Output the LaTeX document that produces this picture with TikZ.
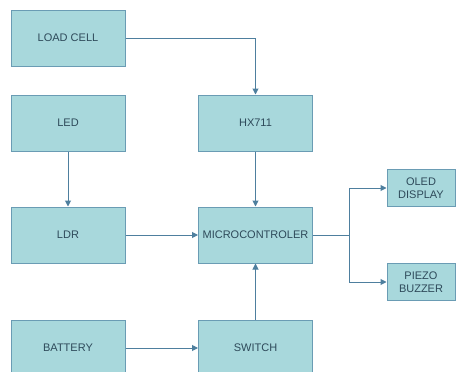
\documentclass[tikz,border=0pt]{standalone}
\usepackage{fontspec}
\setmainfont{Liberation Sans}
\usetikzlibrary{arrows.meta}
\definecolor{boxfill}{HTML}{A8D8DC}
\definecolor{boxline}{HTML}{6A9CB4}
\definecolor{arrowc}{HTML}{4E7F9E}
\definecolor{txt}{HTML}{2E4A5A}
\begin{document}
\begin{tikzpicture}[x=1pt,y=-1pt,
  blk/.style={draw=boxline,fill=boxfill,line width=1pt,inner sep=0pt,
    font=\fontsize{11}{12.5}\selectfont,text=txt,align=center},
  wide/.style={blk,minimum width=114pt,minimum height=56pt},
  small/.style={blk,minimum width=68pt,minimum height=37pt},
  conn/.style={draw=arrowc,line width=1pt,-{Triangle[length=6pt,width=6pt]}}]
\clip (0,0) rectangle (456,372);
\useasboundingbox (0,0) rectangle (456,372);
\node[wide] (load) at (68,38) {LOAD CELL};
\node[wide] (led) at (68,123) {LED};
\node[wide] (ldr) at (68,235) {LDR};
\node[wide] (bat) at (68,348) {BATTERY};
\node[wide] (hx) at (255.5,123) {HX711};
\node[wide] (mcu) at (255.5,235) {MICROCONTROLER};
\node[wide] (sw) at (255.5,348) {SWITCH};
\node[small] (oled) at (421,188) {OLED\\DISPLAY};
\node[small] (piezo) at (421,282) {PIEZO\\BUZZER};
\coordinate (br) at (349,235);
\draw[conn] (load.east) -| (hx.north);
\draw[conn] (led.south) -- (ldr.north);
\draw[conn] (hx.south) -- (mcu.north);
\draw[conn] (ldr.east) -- (mcu.west);
\draw[conn] (bat.east) -- (sw.west);
\draw[conn] (sw.north) -- (mcu.south);
\draw[draw=arrowc,line width=1pt] (mcu.east) -- (br);
\draw[conn] (br) |- (oled.west);
\draw[conn] (br) |- (piezo.west);
\end{tikzpicture}
\end{document}
